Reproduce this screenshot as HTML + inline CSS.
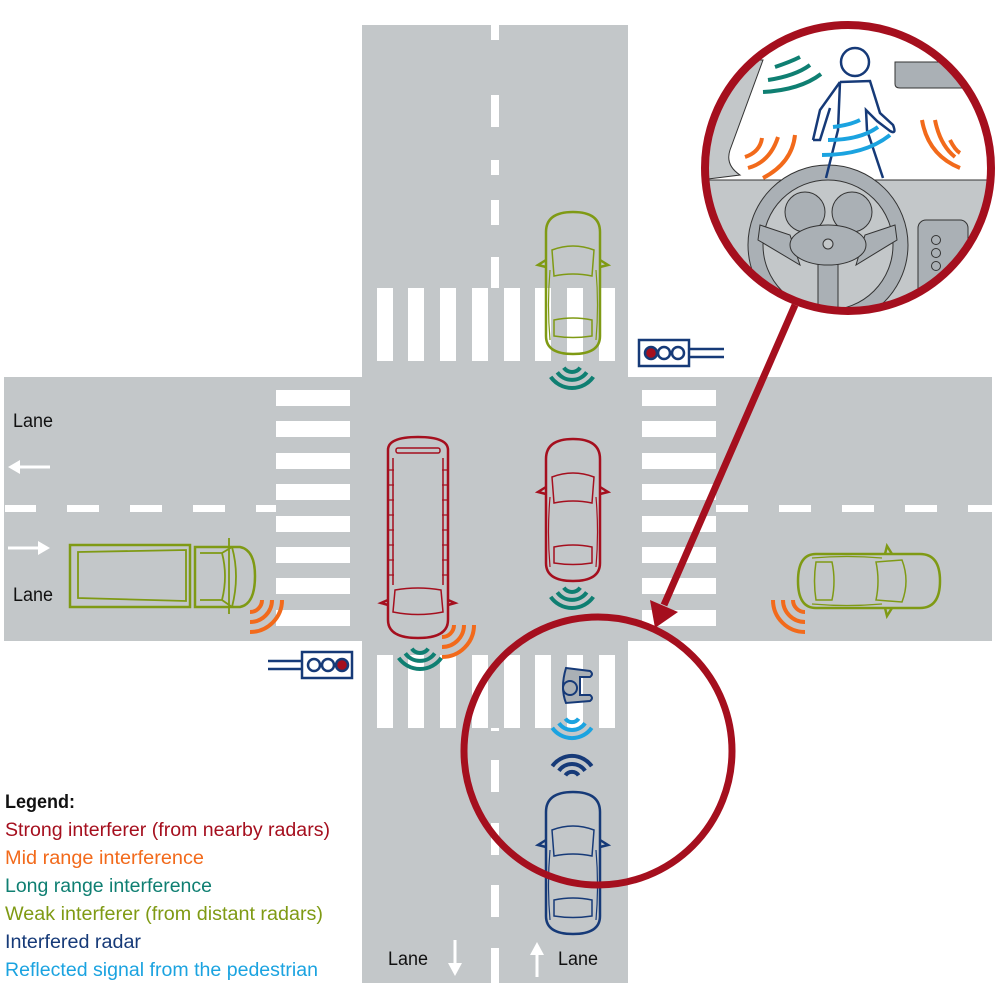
<!DOCTYPE html>
<html><head><meta charset="utf-8"><style>
html,body{margin:0;padding:0;background:#fff;}
svg{display:block;}
text{font-family:"Liberation Sans",sans-serif;}
</style></head><body>
<svg width="1000" height="983" viewBox="0 0 1000 983" xmlns="http://www.w3.org/2000/svg">
<defs>
<symbol id="car" viewBox="0 0 72 146" overflow="visible">
 <path d="M9,22 Q9,2 36,2 Q63,2 63,22 L63,126 Q63,144 36,144 Q9,144 9,126 Z" fill="none" stroke="currentColor" stroke-width="2.5"/>
 <path d="M9,50 L1,55 L9,57 M63,50 L71,55 L63,57" fill="none" stroke="currentColor" stroke-width="2.5"/>
 <path d="M15,40 Q36,32 57,40 L55,66 Q36,62 17,66 Z" fill="none" stroke="currentColor" stroke-width="1.5"/>
 <path d="M17,110 Q36,106 55,110 L55,126 Q36,129 17,126 Z" fill="none" stroke="currentColor" stroke-width="1.5"/>
 <path d="M13,60 Q10,95 13,130 M59,60 Q62,95 59,130" fill="none" stroke="currentColor" stroke-width="1.2"/>
</symbol>
</defs>
<!-- roads -->
<rect x="362" y="25" width="266" height="958" fill="#c3c7c9"/>
<rect x="4" y="377" width="988" height="264" fill="#c3c7c9"/>
<!-- center dashes vertical -->
<g fill="#fff">
<rect x="491" y="25" width="8" height="15"/><rect x="491" y="95" width="8" height="32"/><rect x="491" y="160" width="8" height="15"/><rect x="491" y="200" width="8" height="25"/><rect x="491" y="257" width="8" height="31"/>
<rect x="491" y="728" width="8" height="3"/><rect x="491" y="760" width="8" height="32"/><rect x="491" y="823" width="8" height="32"/><rect x="491" y="885" width="8" height="32"/><rect x="491" y="948" width="8" height="35"/>
<!-- horizontal dashes -->
<rect x="5" y="505" width="31" height="7"/><rect x="67" y="505" width="32" height="7"/><rect x="130" y="505" width="32" height="7"/><rect x="193" y="505" width="32" height="7"/><rect x="256" y="505" width="20" height="7"/>
<rect x="716" y="505" width="32" height="7"/><rect x="779" y="505" width="32" height="7"/><rect x="842" y="505" width="32" height="7"/><rect x="905" y="505" width="32" height="7"/><rect x="968" y="505" width="24" height="7"/>
<!-- crosswalks horizontal stripes -->
<g id="cwL">
<rect x="276" y="390" width="74" height="16"/><rect x="276" y="421" width="74" height="16"/><rect x="276" y="453" width="74" height="16"/><rect x="276" y="484" width="74" height="16"/><rect x="276" y="516" width="74" height="16"/><rect x="276" y="547" width="74" height="16"/><rect x="276" y="578" width="74" height="16"/><rect x="276" y="610" width="74" height="16"/>
</g>
<use href="#cwL" x="366"/>
<g id="cwT">
<rect x="377" y="288" width="16" height="73"/><rect x="408" y="288" width="16" height="73"/><rect x="440" y="288" width="16" height="73"/><rect x="472" y="288" width="16" height="73"/><rect x="504" y="288" width="16" height="73"/><rect x="535" y="288" width="16" height="73"/><rect x="567" y="288" width="16" height="73"/><rect x="599" y="288" width="16" height="73"/>
</g>
<use href="#cwT" y="367"/>
</g>
<!-- lane arrows & labels -->
<g fill="#fff" stroke="#fff">
<line x1="50" y1="467" x2="15" y2="467" stroke-width="3"/><polygon points="8,467 20,460 20,474" stroke="none"/>
<line x1="8" y1="548" x2="42" y2="548" stroke-width="3"/><polygon points="50,548 38,541 38,555" stroke="none"/>
<line x1="455" y1="940" x2="455" y2="966" stroke-width="3"/><polygon points="455,976 448,963 462,963" stroke="none"/>
<line x1="537" y1="977" x2="537" y2="952" stroke-width="3"/><polygon points="537,942 530,955 544,955" stroke="none"/>
</g>
<g font-size="19" fill="#111">
<text x="13" y="427" textLength="40" lengthAdjust="spacingAndGlyphs">Lane</text>
<text x="13" y="601" textLength="40" lengthAdjust="spacingAndGlyphs">Lane</text>
<text x="388" y="965" textLength="40" lengthAdjust="spacingAndGlyphs">Lane</text>
<text x="558" y="965" textLength="40" lengthAdjust="spacingAndGlyphs">Lane</text>
</g>
<!-- traffic lights -->
<g fill="#fff" stroke="#163a78" stroke-width="2.5">
<rect x="639" y="340" width="50" height="26"/>
<circle cx="651" cy="353" r="6" fill="#a50f1e"/><circle cx="664" cy="353" r="6"/><circle cx="678" cy="353" r="6"/>
<line x1="689" y1="349" x2="724" y2="349"/><line x1="689" y1="357" x2="724" y2="357"/>
<rect x="302" y="652" width="50" height="26"/>
<circle cx="314" cy="665" r="6"/><circle cx="328" cy="665" r="6"/><circle cx="342" cy="665" r="6" fill="#a50f1e"/>
<line x1="268" y1="661" x2="302" y2="661"/><line x1="268" y1="669" x2="302" y2="669"/>
</g>
<!-- cars -->
<use href="#car" x="537" y="210" width="72" height="146" color="#7f9a14"/>
<use href="#car" x="537" y="437" width="72" height="146" color="#a50f1e"/>
<use href="#car" x="537" y="790" width="72" height="146" color="#163a78"/>
<use href="#car" x="0" y="0" width="72" height="146" color="#7f9a14" transform="translate(942,545) rotate(90)"/>
<!-- bus -->
<g fill="none" stroke="#a50f1e" stroke-width="2.5">
<path d="M388,450 Q388,437 418,437 Q448,437 448,450 L448,620 Q448,638 418,638 Q388,638 388,620 Z"/>
<rect x="396" y="448" width="44" height="5" rx="2" stroke-width="1.5"/>
<path d="M393,458 V585 M443,458 V585" stroke-width="1.5"/>
<path d="M389,470 h5 M389,485h5 M389,500h5 M389,515h5 M389,530h5 M389,545h5 M389,560h5 M389,575h5 M442,470h5 M442,485h5 M442,500h5 M442,515h5 M442,530h5 M442,545h5 M442,560h5 M442,575h5" stroke-width="1.2"/>
<path d="M395,590 Q418,586 441,590 L443,612 Q418,617 393,612 Z" stroke-width="1.5"/>
<path d="M388,600 L381,603 L388,605 M448,600 L455,603 L448,605"/>
</g>
<!-- truck -->
<g fill="none" stroke="#7f9a14" stroke-width="2.5">
<rect x="70" y="545" width="120" height="62"/>
<path d="M78,552 L186,550 L186,601 L78,598 Z" stroke-width="1.8"/>
<path d="M195,547 L240,547 Q255,550 255,576 Q255,604 240,607 L195,607 Z"/>
<path d="M200,553 L222,553 L232,547 M200,600 L222,600 L232,607 M222,553 Q228,576 222,600 M232,547 Q240,576 232,607 M229,538 V614" stroke-width="1.8"/>
</g>
<!-- waves -->
<g fill="none" stroke-width="4" stroke-linecap="butt">
<g stroke="#0f7f72">
<path d="M563.8,367.7 A10 10 0 0 0 580.2,367.7 M557.3,372.3 A18 18 0 0 0 586.7,372.3 M550.7,376.9 A26 26 0 0 0 593.3,376.9"/>
<path d="M563.8,587.7 A10 10 0 0 0 580.2,587.7 M557.3,592.3 A18 18 0 0 0 586.7,592.3 M550.7,596.9 A26 26 0 0 0 593.3,596.9"/>
<path d="M411.8,648.7 A10 10 0 0 0 428.2,648.7 M405.3,653.3 A18 18 0 0 0 434.7,653.3 M398.7,657.9 A26 26 0 0 0 441.3,657.9"/>
</g>
<g stroke="#f26a1b">
<path d="M454,625 A12 12 0 0 1 442,637 M464,625 A22 22 0 0 1 442,647 M474,625 A32 32 0 0 1 442,657"/>
<path d="M262,600 A12 12 0 0 1 250,612 M272,600 A22 22 0 0 1 250,622 M282,600 A32 32 0 0 1 250,632"/>
<path d="M793,600 A12 12 0 0 0 805,612 M783,600 A22 22 0 0 0 805,622 M773,600 A32 32 0 0 0 805,632"/>
</g>
<g stroke="#163a78">
<path d="M565.4,775.4 A8 8 0 0 1 578.6,775.4 M558.9,770.8 A16 16 0 0 1 585.1,770.8 M552.3,766.2 A24 24 0 0 1 591.7,766.2"/>
</g>
<g stroke="#1ba3e0">
<path d="M565.4,718.6 A8 8 0 0 0 578.6,718.6 M558.9,723.2 A16 16 0 0 0 585.1,723.2 M552.3,727.8 A24 24 0 0 0 591.7,727.8"/>
</g>
</g>
<!-- pedestrian -->
<g fill="#c3c7c9" stroke="#163a78" stroke-width="2">
<path d="M566,668 L590,671 Q594,674 590,677 L580,677 L580,695 L590,695 Q594,698 590,701 L566,703 Q560,688 566,668 Z" fill="#aab0b5"/>
<circle cx="570" cy="688" r="7" fill="#aab0b5"/>
</g>
<!-- big circle -->
<circle cx="598" cy="751" r="134" fill="none" stroke="#a50f1e" stroke-width="7"/>
<!-- arrow -->
<line x1="795" y1="305" x2="664" y2="605" stroke="#a50f1e" stroke-width="7"/>
<polygon points="655,628 650,600 678,612" fill="#a50f1e"/>
<!-- inset -->
<defs><clipPath id="cp"><circle cx="848" cy="168" r="143"/></clipPath></defs>
<circle cx="848" cy="168" r="143" fill="#fff"/>
<g clip-path="url(#cp)">
<path d="M700,180 L740,175 Q725,165 730,150 L763,60 L700,60 Z" fill="#c3c7c9" stroke="#333" stroke-width="1"/>
<path d="M700,180 L983,180 L1000,180 L1000,330 L700,330 Z" fill="#c3c7c9" stroke="#333" stroke-width="1"/>
<path d="M895,62 L960,62 L965,88 L900,88 Q895,88 895,84 Z" fill="#aab0b5" stroke="#333" stroke-width="1"/>
<rect x="918" y="220" width="50" height="90" rx="8" fill="#aab0b5" stroke="#333" stroke-width="1"/>
<circle cx="936" cy="240" r="4.5" fill="#aab0b5" stroke="#333"/><circle cx="936" cy="253" r="4.5" fill="#aab0b5" stroke="#333"/><circle cx="936" cy="266" r="4.5" fill="#aab0b5" stroke="#333"/>
<circle cx="828" cy="245" r="80" fill="#aab0b5" stroke="#333" stroke-width="1"/>
<circle cx="828" cy="245" r="65" fill="#c3c7c9" stroke="#333" stroke-width="1"/>
<circle cx="805" cy="212" r="20" fill="#aab0b5" stroke="#333"/><circle cx="852" cy="212" r="20" fill="#aab0b5" stroke="#333"/>
<path d="M760,225 L790,235 L800,265 L758,240 Z M895,225 L865,235 L856,265 L897,240 Z" fill="#aab0b5" stroke="#333" stroke-width="1"/>
<rect x="818" y="262" width="20" height="60" fill="#aab0b5" stroke="#333" stroke-width="1"/>
<ellipse cx="828" cy="245" rx="38" ry="20" fill="#aab0b5" stroke="#333"/>
<circle cx="828" cy="244" r="5" fill="#c3c7c9" stroke="#333"/>
<g fill="none" stroke="#163a78" stroke-width="2.5">
<circle cx="855" cy="62" r="14"/>
<path d="M840,82 L870,81 L880,113 L893,125 Q897,135 890,131 L877,121 L866,110 L867,130 L883,178 M840,82 L820,110 L813,140 M840,82 L838,130 L826,178 M813,140 L820,140 L830,108"/>
</g>
<g fill="none" stroke="#0f7f72" stroke-width="4">
<path d="M775,67 Q790,62 800,57 M768,80 Q795,76 810,65 M763,92 Q800,90 821,74"/>
</g>
<g fill="none" stroke="#f26a1b" stroke-width="4">
<path d="M745,157 Q760,152 762,138 M748,168 Q770,162 778,137 M763,178 Q792,163 795,135"/>
<path d="M950,140 Q955,150 960,153 M935,120 Q940,145 955,157 M922,120 Q928,155 960,168"/>
</g>
<g fill="none" stroke="#1ba3e0" stroke-width="4">
<path d="M833,127 Q850,125 860,120 M828,140 Q860,140 878,127 M822,155 Q865,155 890,135"/>
</g>
</g>
<circle cx="848" cy="168" r="143" fill="none" stroke="#a50f1e" stroke-width="8"/>
<!-- legend -->
<g font-size="19">
<text x="5" y="808" font-weight="bold" fill="#111" textLength="70" lengthAdjust="spacingAndGlyphs">Legend:</text>
<text x="5" y="836" fill="#a50f1e" textLength="325" lengthAdjust="spacingAndGlyphs">Strong interferer (from nearby radars)</text>
<text x="5" y="864" fill="#f26a1b" textLength="199" lengthAdjust="spacingAndGlyphs">Mid range interference</text>
<text x="5" y="892" fill="#0f7f72" textLength="207" lengthAdjust="spacingAndGlyphs">Long range interference</text>
<text x="5" y="920" fill="#7f9a14" textLength="318" lengthAdjust="spacingAndGlyphs">Weak interferer (from distant radars)</text>
<text x="5" y="948" fill="#163a78" textLength="136" lengthAdjust="spacingAndGlyphs">Interfered radar</text>
<text x="5" y="976" fill="#1ba3e0" textLength="313" lengthAdjust="spacingAndGlyphs">Reflected signal from the pedestrian</text>
</g>
</svg>
</body></html>
